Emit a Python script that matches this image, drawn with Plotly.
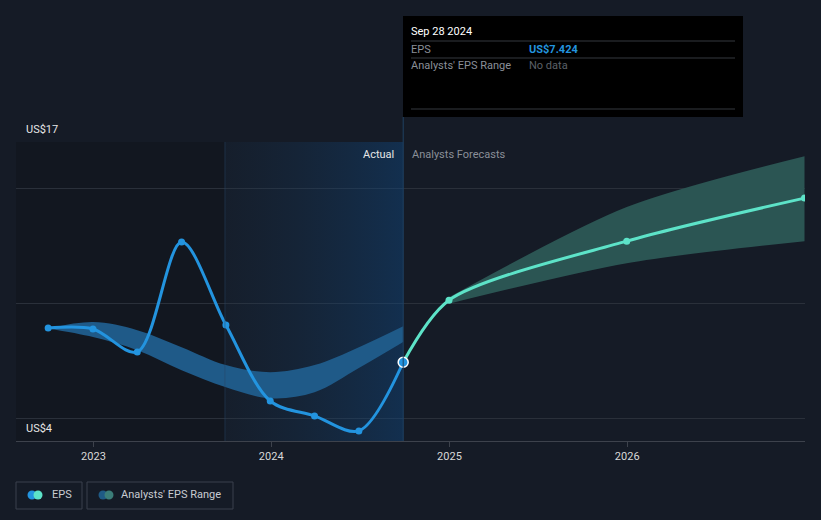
import plotly.graph_objects as go
import pandas as pd

# ---- data ----
actual_dates = ["2022-09-30", "2022-12-31", "2023-04-01", "2023-07-01", "2023-09-30",
                "2023-12-30", "2024-03-30", "2024-06-29", "2024-09-28"]
actual_eps = [8.91, 8.87, 7.87, 12.65, 9.04, 5.74, 5.09, 4.44, 7.424]

past_range_dates = ["2022-09-30", "2022-12-31", "2023-04-01", "2023-07-01", "2023-09-30",
                    "2023-12-30", "2024-03-30", "2024-06-29", "2024-09-28"]
past_range_high = [8.89, 9.17, 8.82, 8.08, 7.30, 6.99, 7.30, 8.08, 8.99]
past_range_low = [8.89, 8.52, 7.95, 7.08, 6.34, 5.86, 6.12, 7.17, 8.30]

forecast_dates = ["2024-09-28", "2024-12-31", "2025-12-31", "2026-12-31"]
forecast_eps = [7.424, 10.12, 12.69, 14.56]

fc_range_dates = ["2024-12-31", "2025-12-31", "2026-12-31"]
fc_range_high = [10.25, 14.17, 16.38]
fc_range_low = [9.97, 11.73, 12.69]

y_min, y_max = 4, 17
y_grid = [5, 10, 15, 17]
x_ticks = ["2023-01-01", "2024-01-01", "2025-01-01", "2026-01-01"]
x_tick_labels = ["2023", "2024", "2025", "2026"]
x_range = ["2022-07-26", "2027-01-01"]

# ---- colours ----
BG = "#151b26"
BLUE = "#2394df"
TEAL = "#5de3c8"
BLUE_BAND = "#1f5a88"
TEAL_BAND = "#2b5553"

W, H = 821, 520
L, R, T, B = 16, 16, 142, 79
PW, PH = W - L - R, H - T - B


def px(x):
    return (x - L) / PW


def py(y):
    return (H - B - y) / PH


last_date = pd.Timestamp(actual_dates[-1])
hl_start = (last_date - pd.DateOffset(years=1)).strftime("%Y-%m-%d")
last_str = last_date.strftime("%Y-%m-%d")

fig = go.Figure()

# highlighted "last 12 months" region with horizontal gradient
fig.add_trace(go.Scatter(
    x=[hl_start, last_str, last_str, hl_start, hl_start],
    y=[y_min, y_min, y_max, y_max, y_min],
    mode="lines", line=dict(width=0), fill="toself",
    fillgradient=dict(type="horizontal",
                      colorscale=[[0, "rgba(25,60,95,0.10)"], [1, "rgba(15,75,135,0.42)"]]),
    hoverinfo="skip", showlegend=False,
))

# past analyst range band
fig.add_trace(go.Scatter(x=past_range_dates, y=past_range_low, mode="lines",
                         line=dict(width=0, shape="spline", smoothing=1.0),
                         hoverinfo="skip", showlegend=False))
fig.add_trace(go.Scatter(x=past_range_dates, y=past_range_high, mode="lines",
                         line=dict(width=0, shape="spline", smoothing=1.0),
                         fill="tonexty", fillcolor=BLUE_BAND,
                         hoverinfo="skip", showlegend=False))

# forecast range band
fig.add_trace(go.Scatter(x=fc_range_dates, y=fc_range_low, mode="lines",
                         line=dict(width=0, shape="spline", smoothing=0.8),
                         hoverinfo="skip", showlegend=False))
fig.add_trace(go.Scatter(x=fc_range_dates, y=fc_range_high, mode="lines",
                         line=dict(width=0, shape="spline", smoothing=0.8),
                         fill="tonexty", fillcolor=TEAL_BAND,
                         hoverinfo="skip", showlegend=False))

# forecast EPS line
fig.add_trace(go.Scatter(x=forecast_dates, y=forecast_eps, mode="lines+markers",
                         line=dict(color=TEAL, width=3, shape="spline", smoothing=0.8),
                         marker=dict(size=7, color=TEAL),
                         showlegend=False))

# actual EPS line
fig.add_trace(go.Scatter(x=actual_dates, y=actual_eps, mode="lines+markers",
                         line=dict(color=BLUE, width=3, shape="spline", smoothing=0.9),
                         marker=dict(size=7, color=BLUE),
                         showlegend=False))
# last actual point with white ring
fig.add_trace(go.Scatter(x=[actual_dates[-1]], y=[actual_eps[-1]], mode="markers",
                         marker=dict(size=10, color=BLUE, line=dict(color="white", width=1.5)),
                         showlegend=False))

shapes = []
# darker historic region
shapes.append(dict(type="rect", xref="x", yref="y", x0=x_range[0], x1=hl_start,
                   y0=y_min, y1=y_max, fillcolor="rgba(0,0,0,0.14)", line=dict(width=0),
                   layer="below"))
# region boundary line
shapes.append(dict(type="line", xref="x", yref="y", x0=hl_start, x1=hl_start,
                   y0=y_min, y1=y_max, line=dict(color="rgba(40,70,100,0.5)", width=1)))
# crosshair at last actual
shapes.append(dict(type="line", xref="x", yref="paper", x0=last_str, x1=last_str,
                   y0=0, y1=py(117), line=dict(color="#1f4263", width=1)))
# tooltip box
shapes.append(dict(type="rect", xref="paper", yref="paper", x0=px(403), x1=px(743),
                   y0=py(117), y1=py(16), fillcolor="#000000", line=dict(width=0)))
for yy in (41, 58, 109):
    shapes.append(dict(type="line", xref="paper", yref="paper", x0=px(411), x1=px(735),
                       y0=py(yy), y1=py(yy), line=dict(color="#34383f", width=1)))

# legend boxes
for x0, x1 in ((16, 82), (87, 233)):
    shapes.append(dict(type="rect", xref="paper", yref="paper", x0=px(x0), x1=px(x1),
                       y0=py(509), y1=py(482), line=dict(color="#3b414c", width=1),
                       fillcolor="rgba(0,0,0,0)"))
r = 4.5
for cx, col in ((32, BLUE), (38, TEAL), (103, "#1f5a85"), (109, "#3b7d78")):
    shapes.append(dict(type="circle", xref="paper", yref="paper",
                       x0=px(cx - r), x1=px(cx + r), y0=py(495 + r), y1=py(495 - r),
                       fillcolor=col, line=dict(width=0)))

FONT = "Roboto, Arial, sans-serif"
ann = []
ann.append(dict(text=f"US${y_max}", xref="paper", yref="y", x=px(24), y=y_max,
                xanchor="left", yanchor="bottom", yshift=4, showarrow=False,
                font=dict(color="#e6e6e6", size=11, family=FONT)))
ann.append(dict(text=f"US${y_min}", xref="paper", yref="y", x=px(24), y=y_min,
                xanchor="left", yanchor="bottom", yshift=4, showarrow=False,
                font=dict(color="#e6e6e6", size=11, family=FONT)))
ann.append(dict(text="Actual", xref="paper", yref="paper", x=px(396), y=py(154),
                xanchor="right", yanchor="middle", showarrow=False,
                font=dict(color="#e6e6e6", size=11, family=FONT)))
ann.append(dict(text="Analysts Forecasts", xref="paper", yref="paper", x=px(410), y=py(154),
                xanchor="left", yanchor="middle", showarrow=False,
                font=dict(color="#8a8f98", size=11, family=FONT)))
# tooltip texts
ann.append(dict(text=last_date.strftime("%b %d %Y"), xref="paper", yref="paper",
                x=px(409), y=py(31), xanchor="left", yanchor="middle", showarrow=False,
                font=dict(color="#ffffff", size=11, family=FONT)))
ann.append(dict(text="EPS", xref="paper", yref="paper", x=px(409), y=py(49),
                xanchor="left", yanchor="middle", showarrow=False,
                font=dict(color="#8a8f98", size=11, family=FONT)))
ann.append(dict(text=f"<b>US${actual_eps[-1]:.3f}</b>", xref="paper", yref="paper",
                x=px(527), y=py(49), xanchor="left", yanchor="middle", showarrow=False,
                font=dict(color=BLUE, size=11, family=FONT)))
ann.append(dict(text="Analysts' EPS Range", xref="paper", yref="paper", x=px(409), y=py(66),
                xanchor="left", yanchor="middle", showarrow=False,
                font=dict(color="#8a8f98", size=11, family=FONT)))
ann.append(dict(text="No data", xref="paper", yref="paper", x=px(527), y=py(66),
                xanchor="left", yanchor="middle", showarrow=False,
                font=dict(color="#5c6068", size=11, family=FONT)))
# legend texts
ann.append(dict(text="EPS", xref="paper", yref="paper", x=px(50), y=py(495),
                xanchor="left", yanchor="middle", showarrow=False,
                font=dict(color="#c8ccd2", size=11, family=FONT)))
ann.append(dict(text="Analysts' EPS Range", xref="paper", yref="paper", x=px(119), y=py(495),
                xanchor="left", yanchor="middle", showarrow=False,
                font=dict(color="#c8ccd2", size=11, family=FONT)))

fig.update_layout(
    width=W, height=H,
    margin=dict(l=L, r=R, t=T, b=B),
    paper_bgcolor=BG, plot_bgcolor=BG,
    showlegend=False,
    shapes=shapes, annotations=ann,
    font=dict(family=FONT, color="#d0d0d0", size=11),
    xaxis=dict(type="date", range=x_range, tickvals=x_ticks, ticktext=x_tick_labels,
               showgrid=False, zeroline=False, showline=True, linecolor="#3d424c",
               linewidth=1, ticks="outside", ticklen=5, tickcolor="#3d424c",
               tickfont=dict(color="#d8d8d8", size=11, family=FONT), fixedrange=True),
    yaxis=dict(range=[y_min, y_max], tickvals=y_grid, showticklabels=False,
               showgrid=True, gridcolor="#2a303a", gridwidth=1, zeroline=False,
               showline=False, fixedrange=True),
    hovermode=False,
)

fig.write_html(
    "out.html",
    config={"displayModeBar": False},
    post_script="document.body.style.margin='0';document.body.style.background='" + BG + "';",
)
